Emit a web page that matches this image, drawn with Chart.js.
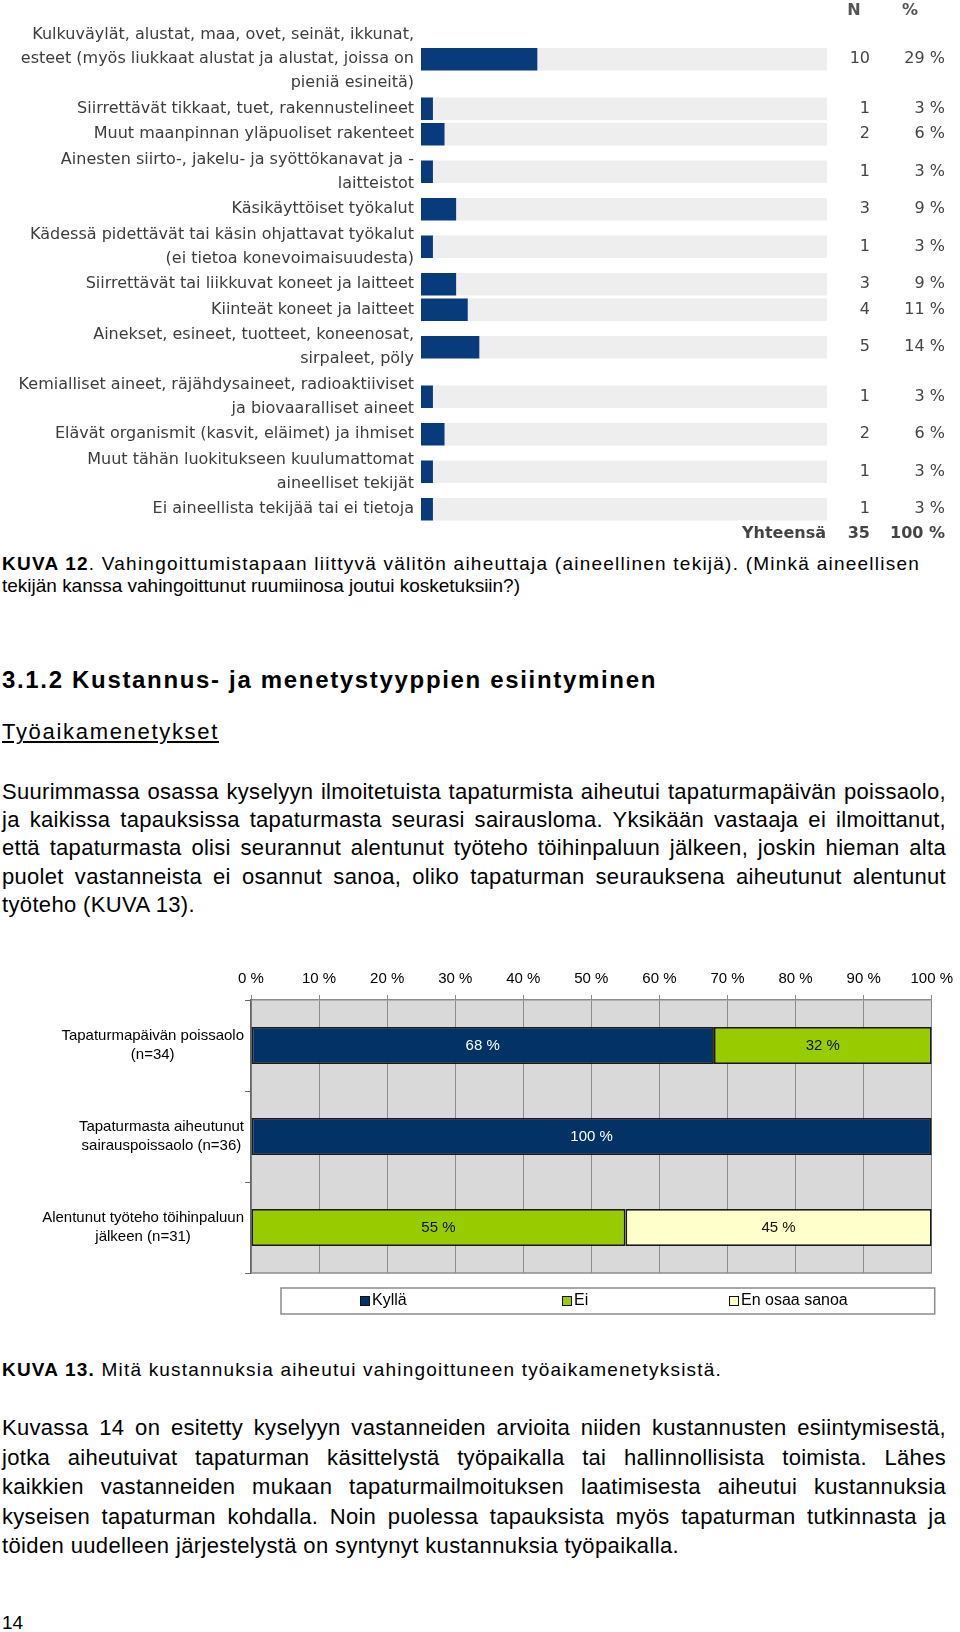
<!DOCTYPE html>
<html><head><meta charset="utf-8">
<script src="https://cdn.jsdelivr.net/npm/chart.js"></script>
<style>
html,body{margin:0;padding:0;background:#fff;}
body{width:960px;height:1632px;position:relative;overflow:hidden;font-family:"Liberation Sans",Arial,sans-serif;color:#000;}
.t{position:absolute;left:2px;white-space:nowrap;line-height:1;}
#w1{position:absolute;left:0;top:0;width:960px;height:545px;}
#w2{position:absolute;left:0;top:940px;width:960px;height:400px;}
</style></head>
<body>
<div id="w1"><canvas id="c1" width="960" height="545"></canvas></div>

<div class="t fit" data-w="918" style="top:554px;font-size:19px"><b>KUVA 12</b>. Vahingoittumistapaan liittyvä välitön aiheuttaja (aineellinen tekijä). (Minkä aineellisen</div>
<div class="t fit" data-w="518" style="top:576px;font-size:19px">tekijän kanssa vahingoittunut ruumiinosa joutui kosketuksiin?)</div>

<div class="t fit" data-w="655" style="top:668px;font-size:24px;font-weight:bold">3.1.2 Kustannus- ja menetystyyppien esiintyminen</div>
<div class="t fit" data-w="217" style="top:721px;font-size:22px;text-decoration:underline">Työaikamenetykset</div>

<div class="t just" data-w="944" style="top:781px;font-size:22px">Suurimmassa osassa kyselyyn ilmoitetuista tapaturmista aiheutui tapaturmapäivän poissaolo,</div>
<div class="t just" data-w="944" style="top:809px;font-size:22px">ja kaikissa tapauksissa tapaturmasta seurasi sairausloma. Yksikään vastaaja ei ilmoittanut,</div>
<div class="t just" data-w="944" style="top:837px;font-size:22px">että tapaturmasta olisi seurannut alentunut työteho töihinpaluun jälkeen, joskin hieman alta</div>
<div class="t just" data-w="944" style="top:866px;font-size:22px">puolet vastanneista ei osannut sanoa, oliko tapaturman seurauksena aiheutunut alentunut</div>
<div class="t fit" data-w="193" style="top:894px;font-size:22px">työteho (KUVA 13).</div>

<div id="w2"><canvas id="c2" width="960" height="400"></canvas></div>

<div class="t fit" data-w="720" style="top:1360px;font-size:19px"><b>KUVA 13.</b> Mitä kustannuksia aiheutui vahingoittuneen työaikamenetyksistä.</div>

<div class="t just" data-w="944" style="top:1417px;font-size:22px">Kuvassa 14 on esitetty kyselyyn vastanneiden arvioita niiden kustannusten esiintymisestä,</div>
<div class="t just" data-w="944" style="top:1447px;font-size:22px">jotka aiheutuivat tapaturman käsittelystä työpaikalla tai hallinnollisista toimista. Lähes</div>
<div class="t just" data-w="944" style="top:1476px;font-size:22px">kaikkien vastanneiden mukaan tapaturmailmoituksen laatimisesta aiheutui kustannuksia</div>
<div class="t just" data-w="944" style="top:1506px;font-size:22px">kyseisen tapaturman kohdalla. Noin puolessa tapauksista myös tapaturman tutkinnasta ja</div>
<div class="t fit" data-w="677" style="top:1535px;font-size:22px">töiden uudelleen järjestelystä on syntynyt kustannuksia työpaikalla.</div>

<div class="t" style="top:1613px;font-size:19px">14</div>

<script>
// ---------- Chart 1 data ----------
const labels1 = [
  ['Kulkuväylät, alustat, maa, ovet, seinät, ikkunat,', 'esteet (myös liukkaat alustat ja alustat, joissa on', 'pieniä esineitä)'],
  ['Siirrettävät tikkaat, tuet, rakennustelineet'],
  ['Muut maanpinnan yläpuoliset rakenteet'],
  ['Ainesten siirto-, jakelu- ja syöttökanavat ja -', 'laitteistot'],
  ['Käsikäyttöiset työkalut'],
  ['Kädessä pidettävät tai käsin ohjattavat työkalut', '(ei tietoa konevoimaisuudesta)'],
  ['Siirrettävät tai liikkuvat koneet ja laitteet'],
  ['Kiinteät koneet ja laitteet'],
  ['Ainekset, esineet, tuotteet, koneenosat,', 'sirpaleet, pöly'],
  ['Kemialliset aineet, räjähdysaineet, radioaktiiviset', 'ja biovaaralliset aineet'],
  ['Elävät organismit (kasvit, eläimet) ja ihmiset'],
  ['Muut tähän luokitukseen kuulumattomat', 'aineelliset tekijät'],
  ['Ei aineellista tekijää tai ei tietoja']
];
const counts1 = [10, 1, 2, 1, 3, 1, 3, 4, 5, 1, 2, 1, 1];
const pcts1 = [29, 3, 6, 3, 9, 3, 9, 11, 14, 3, 6, 3, 3];
const total1 = 35;
const totalPct1 = 100;
const colHeaders1 = ['N', '%'];
const totalLabel1 = 'Yhteensä';

// ---------- Chart 2 data ----------
const categories2 = [
  ['Tapaturmapäivän poissaolo', '(n=34)'],
  ['Tapaturmasta aiheutunut', 'sairauspoissaolo (n=36)'],
  ['Alentunut työteho töihinpaluun', 'jälkeen (n=31)']
];
const seriesNames2 = ['Kyllä', 'Ei', 'En osaa sanoa'];
const kylla2 = [68, 100, 0];
const ei2 = [32, 0, 55];
const eos2 = [0, 0, 45];
const xTickValues2 = [0, 10, 20, 30, 40, 50, 60, 70, 80, 90, 100];

// ---------- text fitting ----------
document.querySelectorAll('[data-w]').forEach(el => {
  const target = +el.dataset.w;
  if (el.classList.contains('just')) {
    el.style.letterSpacing = '0.3px';
    const w1 = el.getBoundingClientRect().width;
    const spaces = (el.textContent.match(/ /g) || []).length;
    el.style.wordSpacing = ((target - w1) / spaces) + 'px';
  } else {
    const w0 = el.getBoundingClientRect().width;
    const n = el.textContent.length;
    el.style.letterSpacing = ((target - w0) / n) + 'px';
  }
});

// ---------- Chart 1 ----------
const rowHeights1 = labels1.map(l => 24 * l.length + 1.5);
const centers1 = [];
let acc1 = 0;
rowHeights1.forEach(h => { centers1.push(acc1 + h / 2); acc1 += h; });
const span1 = acc1;

const columnsPlugin = {
  id: 'columns1',
  afterDraw(chart) {
    const ctx = chart.ctx, a = chart.chartArea, ys = chart.scales.y;
    const nRight = a.right + 43, pRight = a.right + 118;
    ctx.save();
    ctx.textBaseline = 'middle';
    // category labels (right aligned, multi-line)
    ctx.fillStyle = '#3d3d3d';
    ctx.font = '16px "DejaVu Sans"';
    ctx.textAlign = 'right';
    labels1.forEach((lines, i) => {
      const y = ys.getPixelForValue(centers1[i]);
      lines.forEach((t, j) => ctx.fillText(t, a.left - 7, y + (j - (lines.length - 1) / 2) * 24));
    });
    // column headers
    ctx.fillStyle = '#555';
    ctx.font = 'bold 16px "DejaVu Sans"';
    ctx.textAlign = 'center';
    ctx.fillText(colHeaders1[0], a.right + 27, a.top - 12);
    ctx.fillText(colHeaders1[1], a.right + 83, a.top - 12);
    // values
    ctx.fillStyle = '#444';
    ctx.font = '16px "DejaVu Sans"';
    ctx.textAlign = 'right';
    counts1.forEach((v, i) => {
      const y = ys.getPixelForValue(centers1[i]);
      ctx.fillText(String(v), nRight, y);
      ctx.fillText(pcts1[i] + ' %', pRight, y);
    });
    ctx.font = 'bold 16px "DejaVu Sans"';
    const ty = a.bottom + 12;
    ctx.fillText(totalLabel1, a.right - 1, ty);
    ctx.fillText(String(total1), nRight, ty);
    ctx.fillText(totalPct1 + ' %', pRight, ty);
    ctx.restore();
  }
};

new Chart(document.getElementById('c1'), {
  type: 'bar',
  data: {
    datasets: [
      { label: 'N', data: counts1.map((v, i) => ({ x: v, y: centers1[i] })), backgroundColor: '#083b7b', barThickness: 22 },
      { label: 'rest', data: counts1.map((v, i) => ({ x: total1 - v, y: centers1[i] })), backgroundColor: '#eeeeee', barThickness: 22 }
    ]
  },
  options: {
    indexAxis: 'y', responsive: false, animation: false,
    layout: { padding: { top: 22.5, bottom: 23, right: 133, left: 0 } },
    plugins: { legend: { display: false }, tooltip: { enabled: false } },
    scales: {
      x: { type: 'linear', display: false, min: 0, max: total1, stacked: true },
      y: {
        type: 'linear', min: 0, max: span1, reverse: true, stacked: true, offset: false,
        grid: { display: false, drawTicks: false }, border: { display: false },
        afterFit: s => { s.width = 421; s.paddingTop = 0; s.paddingBottom = 0; },
        ticks: { display: false }
      }
    }
  },
  plugins: [columnsPlugin]
});

// ---------- Chart 2 ----------
const colors2 = ['#033366', '#99cc00', '#ffffcc'];
const labelColors2 = ['#ffffff', '#111111', '#111111'];

const plotBgPlugin = {
  id: 'plotBg',
  beforeDraw(chart) {
    const a = chart.chartArea, ctx = chart.ctx;
    ctx.save();
    ctx.fillStyle = '#d9d9d9';
    ctx.fillRect(a.left, a.top, a.right - a.left, a.bottom - a.top);
    ctx.restore();
  },
  afterDraw(chart) {
    const a = chart.chartArea, ctx = chart.ctx;
    ctx.save();
    ctx.strokeStyle = '#8c8c8c';
    ctx.lineWidth = 1.5;
    ctx.beginPath();
    ctx.moveTo(a.left, a.bottom); ctx.lineTo(a.right, a.bottom);
    ctx.stroke();
    ctx.restore();
  }
};

const valueLabelPlugin = {
  id: 'valueLabels',
  afterDatasetsDraw(chart) {
    const ctx = chart.ctx;
    ctx.save();
    ctx.font = '15px "Liberation Sans"';
    ctx.textAlign = 'center';
    ctx.textBaseline = 'middle';
    chart.data.datasets.forEach((ds, di) => {
      chart.getDatasetMeta(di).data.forEach((bar, i) => {
        const v = ds.data[i];
        if (!v) return;
        ctx.fillStyle = labelColors2[di];
        ctx.fillText(v + ' %', (bar.base + bar.x) / 2, bar.y);
      });
    });
    ctx.restore();
  }
};

const yLabelPlugin = {
  id: 'yLabels2',
  afterDraw(chart) {
    const ctx = chart.ctx, ys = chart.scales.y, a = chart.chartArea;
    ctx.save();
    ctx.font = '15px "Liberation Sans"';
    ctx.fillStyle = '#000';
    ctx.textAlign = 'center';
    ctx.textBaseline = 'middle';
    const right = a.left - 7, lh = 19;
    categories2.forEach((lines, i) => {
      const y = ys.getPixelForValue(i);
      const w = Math.max(...lines.map(t => ctx.measureText(t).width));
      const cx = right - w / 2;
      lines.forEach((t, j) => ctx.fillText(t, cx, y + (j - (lines.length - 1) / 2) * lh));
    });
    ctx.restore();
  }
};

const boxLegendPlugin = {
  id: 'boxLegend',
  afterDraw(chart) {
    const ctx = chart.ctx, a = chart.chartArea;
    const left = a.left + 30, right = a.right + 3, top = a.bottom + 15, h = 26;
    const offsets = [79, 281, 448];
    ctx.save();
    ctx.fillStyle = '#fff';
    ctx.fillRect(left, top, right - left, h);
    ctx.strokeStyle = '#8c8c8c';
    ctx.lineWidth = 1.5;
    ctx.strokeRect(left, top, right - left, h);
    ctx.font = '16px "Liberation Sans"';
    ctx.textBaseline = 'middle';
    ctx.textAlign = 'left';
    const cy = top + h / 2;
    chart.data.datasets.forEach((ds, i) => {
      const x = left + offsets[i];
      ctx.fillStyle = ds.backgroundColor;
      ctx.fillRect(x, cy - 5, 10, 10);
      ctx.strokeStyle = '#111';
      ctx.lineWidth = 1;
      ctx.strokeRect(x + 0.5, cy - 4.5, 9, 9);
      ctx.fillStyle = '#000';
      ctx.fillText(ds.label, x + 12, cy);
    });
    ctx.restore();
  }
};

const seriesData2 = [kylla2, ei2, eos2];
new Chart(document.getElementById('c2'), {
  type: 'bar',
  data: {
    labels: categories2.map(l => l.join(' ')),
    datasets: seriesNames2.map((name, i) => ({
      label: name,
      data: seriesData2[i],
      backgroundColor: colors2[i],
      borderColor: '#1a1a1a',
      borderWidth: c => (c.raw ? 1.8 : 0),
      borderSkipped: false,
      barPercentage: 1,
      categoryPercentage: 0.407
    }))
  },
  options: {
    indexAxis: 'y', responsive: false, animation: false,
    layout: { padding: { top: 0, bottom: 67, right: 27, left: 0 } },
    plugins: { legend: { display: false }, tooltip: { enabled: false } },
    scales: {
      x: {
        position: 'top', min: 0, max: 100, stacked: true,
        afterBuildTicks: s => { s.ticks = xTickValues2.map(v => ({ value: v })); },
        afterFit: s => { s.height = 60; },
        grid: { color: '#8c8c8c', lineWidth: 1, tickLength: 5, drawTicks: true },
        border: { color: '#8c8c8c', width: 1.5 },
        ticks: { padding: 7, color: '#000', font: { family: 'Liberation Sans', size: 15 }, callback: v => v + ' %', autoSkip: false, maxRotation: 0 }
      },
      y: {
        type: 'category', stacked: true, offset: true,
        afterFit: s => { s.width = 251; },
        grid: { offset: true, drawOnChartArea: false, drawTicks: true, tickLength: 6, color: '#666' },
        border: { color: '#666', width: 1.5 },
        ticks: { display: false }
      }
    }
  },
  plugins: [plotBgPlugin, valueLabelPlugin, yLabelPlugin, boxLegendPlugin]
});
</script>
</body></html>
